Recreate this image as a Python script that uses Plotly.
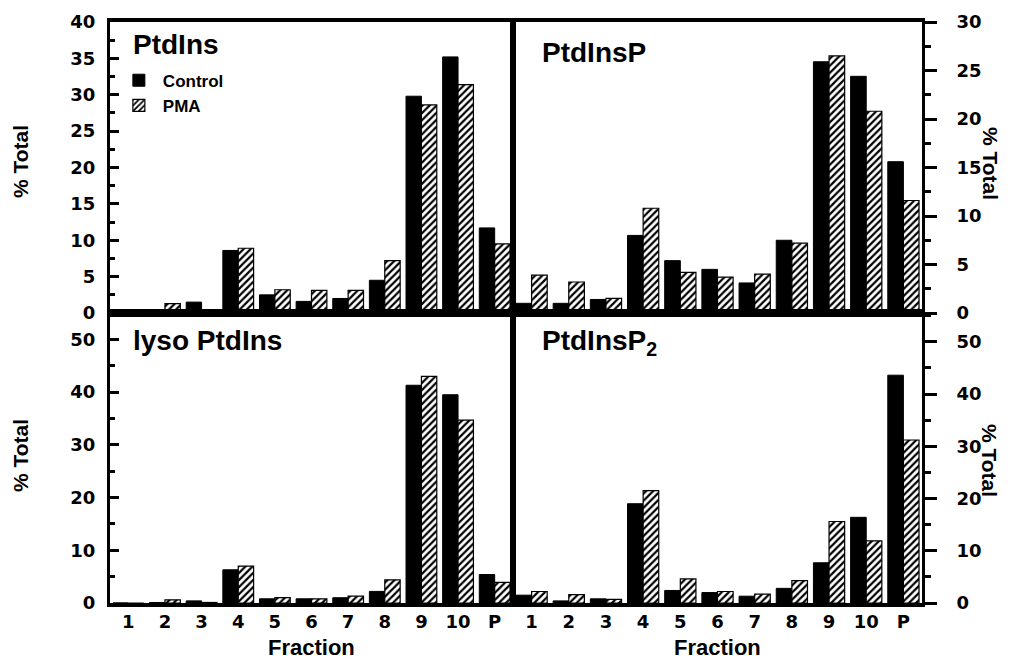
import plotly.graph_objects as go

fractions = ["1", "2", "3", "4", "5", "6", "7", "8", "9", "10", "P"]

ptdins_control = [0.0, 0.0, 1.5, 8.6, 2.5, 1.6, 2.0, 4.5, 29.8, 35.2, 11.7]
ptdins_pma = [0.2, 1.3, 0.3, 8.9, 3.2, 3.1, 3.1, 7.2, 28.6, 31.4, 9.5]

ptdinsp_control = [1.0, 1.0, 1.4, 8.0, 5.4, 4.5, 3.1, 7.5, 25.9, 24.4, 15.6]
ptdinsp_pma = [3.9, 3.2, 1.5, 10.8, 4.2, 3.7, 4.0, 7.2, 26.5, 20.8, 11.6]

lyso_control = [0.0, 0.1, 0.4, 6.3, 0.8, 0.8, 1.0, 2.2, 41.3, 39.5, 5.4]
lyso_pma = [0.0, 0.6, 0.1, 7.0, 1.0, 0.8, 1.3, 4.4, 43.0, 34.7, 3.9]

ptdinsp2_control = [1.5, 0.4, 0.8, 19.0, 2.4, 2.0, 1.3, 2.8, 7.7, 16.4, 43.6]
ptdinsp2_pma = [2.2, 1.6, 0.7, 21.5, 4.6, 2.2, 1.7, 4.3, 15.6, 11.9, 31.2]

panel_titles = ["PtdIns", "PtdInsP", "lyso PtdIns", "PtdInsP<sub>2</sub>"]
series_names = ["Control", "PMA"]

FONT = "Liberation Sans"
TICKFONT = "DejaVu Sans"
XS = 0.4963
YS = 0.4991

# The page body adds an 8px offset; the figure is sized so the plot area
# lands at page pixels x 110..922, y 22..603.
fig = go.Figure()

panels = [
    ("x", "y", ptdins_control, ptdins_pma, True),
    ("x2", "y2", ptdinsp_control, ptdinsp_pma, False),
    ("x3", "y3", lyso_control, lyso_pma, False),
    ("x4", "y4", ptdinsp2_control, ptdinsp2_pma, False),
]

for xa, ya, ctrl, pma, show in panels:
    fig.add_trace(go.Bar(
        x=fractions, y=ctrl, name=series_names[0], xaxis=xa, yaxis=ya,
        marker=dict(color="black", line=dict(color="black", width=1)),
        showlegend=show, legendgroup="c",
    ))
    fig.add_trace(go.Bar(
        x=fractions, y=pma, name=series_names[1], xaxis=xa, yaxis=ya,
        marker=dict(color="white", line=dict(color="black", width=1.2),
                    pattern=dict(shape="/", fgcolor="black", bgcolor="white",
                                 size=5, solidity=0.45, fillmode="replace")),
        showlegend=show, legendgroup="p",
    ))

tickfont = dict(family=TICKFONT, size=18, color="black", weight="bold")

def xaxis_cfg(domain, anchor, labels):
    return dict(domain=domain, anchor=anchor, showline=True, linewidth=3.5,
                linecolor="black", mirror=True, ticks="", showgrid=False,
                showticklabels=labels, tickfont=tickfont, zeroline=False,
                range=[-0.5, 10.5], automargin=False)

def yaxis_cfg(domain, anchor, rng, dtick, side):
    left = side == "left"
    return dict(domain=domain, anchor=anchor, side=side, range=rng,
                showline=True, linewidth=3, linecolor="black", mirror=True,
                ticks="inside" if left else "outside", ticklen=9 if left else 12,
                tickwidth=3, tickcolor="black", dtick=dtick, tick0=0,
                minor=dict(ticks="inside" if left else "outside",
                           ticklen=5 if left else 6, tickwidth=3,
                           tickcolor="black", dtick=dtick / 2),
                showgrid=False, zeroline=False, tickfont=tickfont,
                automargin=False,
                ticklabelstandoff=8 if left else 16)

fig.update_layout(
    width=1003, height=652,
    margin=dict(l=102, r=89, t=14, b=57),
    paper_bgcolor="white", plot_bgcolor="white",
    barmode="group", bargap=0.16, bargroupgap=0,
    font=dict(family=FONT, color="black", weight="bold"),
    xaxis=xaxis_cfg([0, XS], "y", False),
    xaxis2=xaxis_cfg([XS, 1], "y2", False),
    xaxis3=xaxis_cfg([0, XS], "y3", True),
    xaxis4=xaxis_cfg([XS, 1], "y4", True),
    yaxis=yaxis_cfg([YS, 1], "x", [0, 40], 5, "left"),
    yaxis2=yaxis_cfg([YS, 1], "x2", [0, 30], 5, "right"),
    yaxis3=yaxis_cfg([0, YS], "x3", [0, 55], 10, "left"),
    yaxis4=yaxis_cfg([0, YS], "x4", [0, 55.5], 10, "right"),
    legend=dict(x=0.006, y=0.930, xanchor="left", yanchor="top",
                font=dict(family=FONT, size=17, color="black", weight="bold"),
                bgcolor="rgba(0,0,0,0)", itemwidth=38, tracegroupgap=0,
                traceorder="normal"),
)

def px_to_paper_x(px):
    return (px - 110) / 812

def px_to_paper_y(py):
    return (603 - py) / 581

title_pos = [(131, 45), (540, 52), (131, 340), (540, 343)]
for t, (x, y) in zip(panel_titles, title_pos):
    fig.add_annotation(text=t, xref="paper", yref="paper",
                       x=px_to_paper_x(x), y=px_to_paper_y(y),
                       xanchor="left", yanchor="middle", showarrow=False,
                       font=dict(family=FONT, size=28, color="black", weight="bold"))

for (xp, yp, ang) in [(20, 162, -90), (20, 456, -90), (990, 163, 90), (990, 460, 90)]:
    fig.add_annotation(text="% Total", xref="paper", yref="paper",
                       x=px_to_paper_x(xp), y=px_to_paper_y(yp), textangle=ang,
                       xanchor="center", yanchor="middle", showarrow=False,
                       font=dict(family=FONT, size=21, color="black", weight="bold"))

for xp in (311, 717):
    fig.add_annotation(text="Fraction", xref="paper", yref="paper",
                       x=px_to_paper_x(xp), y=px_to_paper_y(647),
                       xanchor="center", yanchor="middle", showarrow=False,
                       font=dict(family=FONT, size=22, color="black", weight="bold"))

fig.write_html("out.html")
